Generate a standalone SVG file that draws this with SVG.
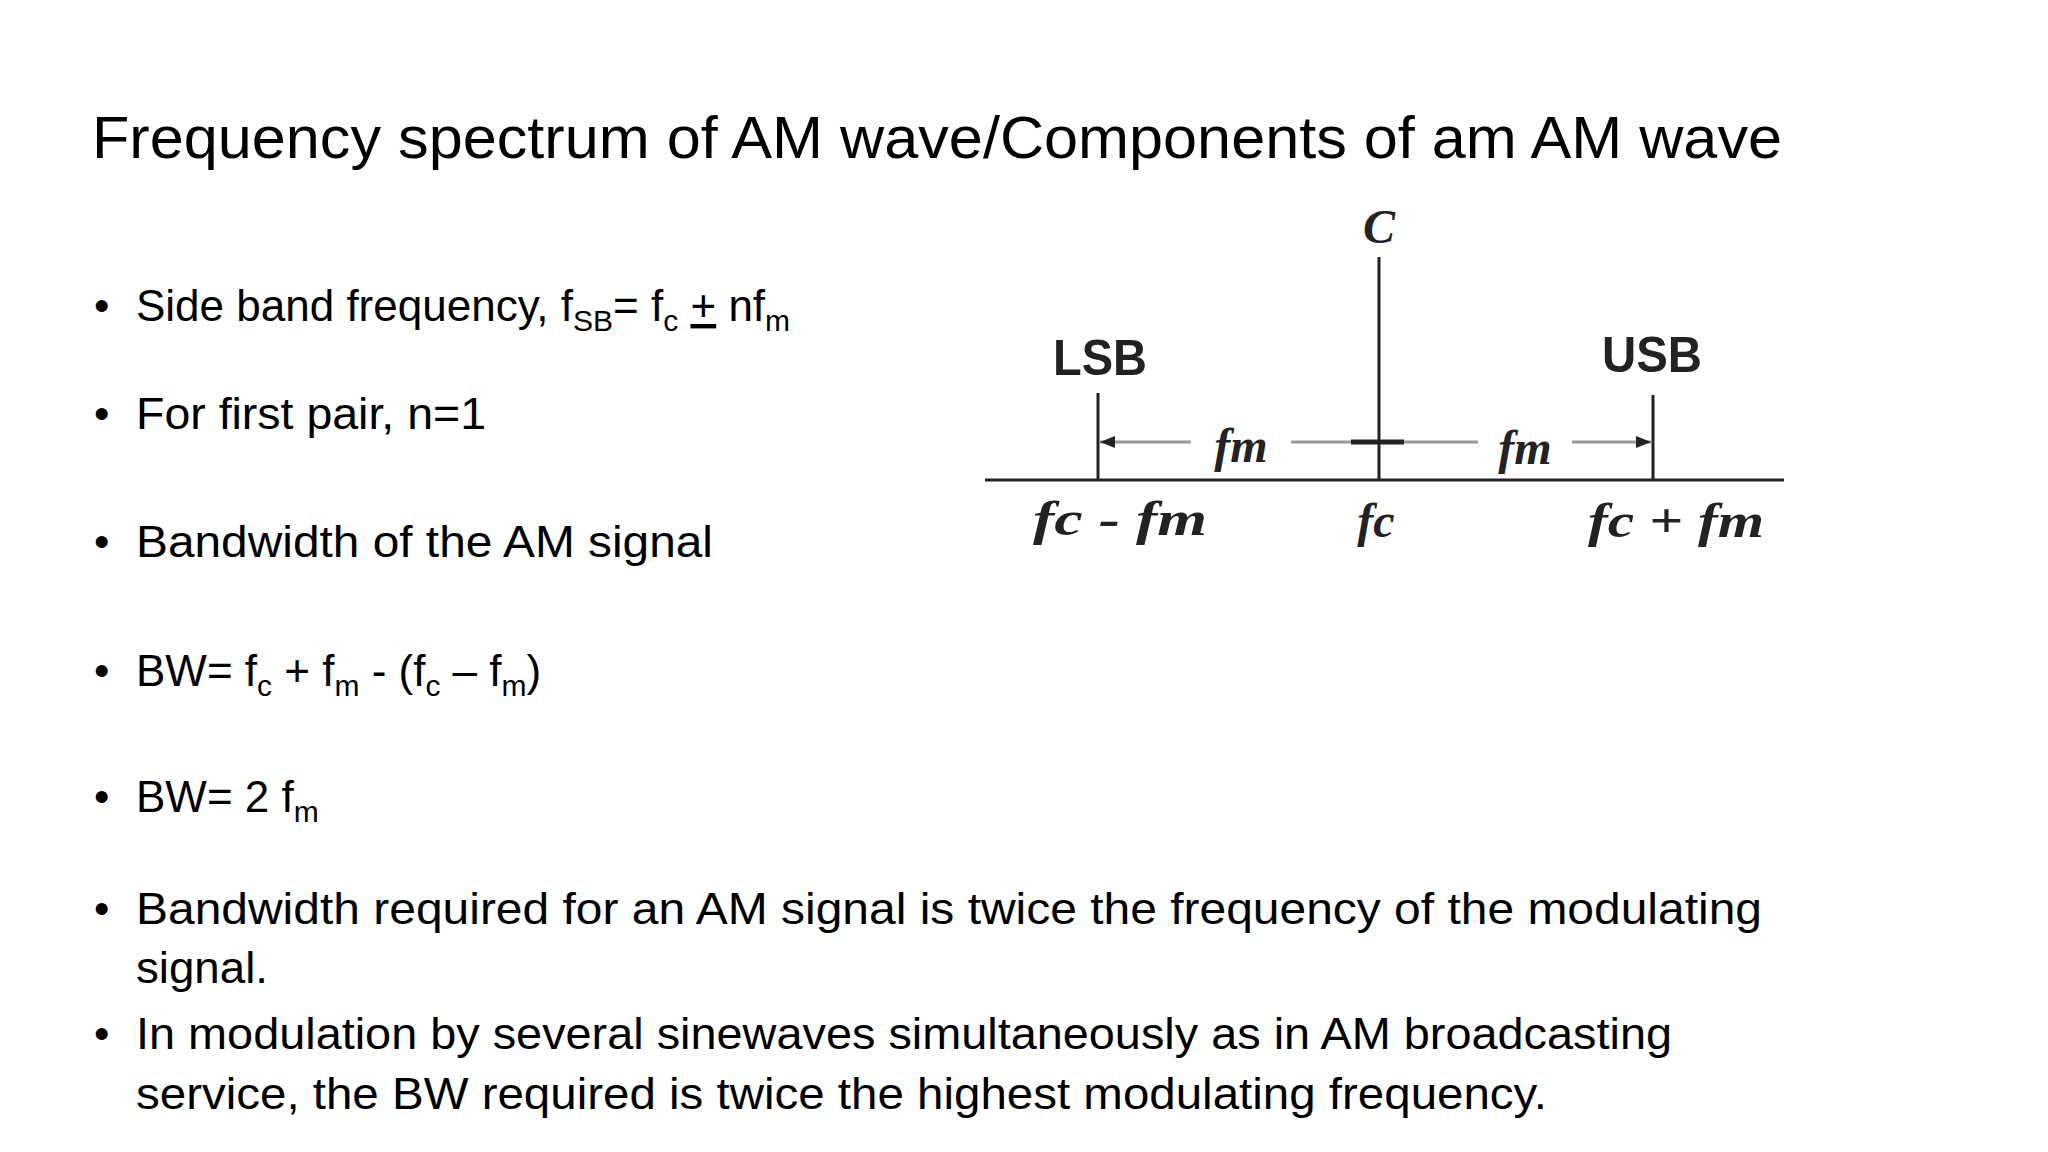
<svg xmlns="http://www.w3.org/2000/svg" width="2048" height="1152" viewBox="0 0 2048 1152">
<style>
.t{font-family:"Liberation Sans",Arial,sans-serif;fill:#000}
.b{font-size:44px}
.s{font-size:30px}
.lab{font-family:"Liberation Sans",Arial,sans-serif;font-weight:bold;font-size:50px;fill:#222}
.m{font-family:"Liberation Serif","Times New Roman",serif;font-style:italic;font-weight:bold;font-size:48px;fill:#222}
.ln{stroke:#222;stroke-width:3;fill:none}
</style>
<defs>
<marker id="ah" viewBox="0 0 10 10" refX="10" refY="5" markerWidth="5" markerHeight="5" orient="auto-start-reverse"><path d="M0,1 L10,5 L0,9 z" fill="#222"/></marker>
</defs>
<rect width="2048" height="1152" fill="#fff"/>
<text class="t" x="92" y="158" font-size="60" textLength="1690" lengthAdjust="spacingAndGlyphs">Frequency spectrum of AM wave/Components of am AM wave</text>
<g id="bullets" class="t b">
<text x="94" y="321">•</text><text x="136" y="321">Side band frequency, f<tspan class="s" dy="10">SB</tspan><tspan dy="-10">= f</tspan><tspan class="s" dy="10">c</tspan><tspan dy="-10"> </tspan><tspan text-decoration="underline">+</tspan><tspan> nf</tspan><tspan class="s" dy="10">m</tspan></text>
<text x="94" y="429">•</text><text x="136" y="429" textLength="350" lengthAdjust="spacingAndGlyphs">For first pair, n=1</text>
<text x="94" y="557">•</text><text x="136" y="557" textLength="577" lengthAdjust="spacingAndGlyphs">Bandwidth of the AM signal</text>
<text x="94" y="686">•</text><text x="136" y="686">BW= f<tspan class="s" dy="10">c</tspan><tspan dy="-10"> + f</tspan><tspan class="s" dy="10">m</tspan><tspan dy="-10"> - (f</tspan><tspan class="s" dy="10">c</tspan><tspan dy="-10"> – f</tspan><tspan class="s" dy="10">m</tspan><tspan dy="-10">)</tspan></text>
<text x="94" y="812">•</text><text x="136" y="812">BW= 2 f<tspan class="s" dy="10">m</tspan></text>
<text x="94" y="924">•</text><text x="136" y="924" textLength="1626" lengthAdjust="spacingAndGlyphs">Bandwidth required for an AM signal is twice the frequency of the modulating</text>
<text x="136" y="983" textLength="132" lengthAdjust="spacingAndGlyphs">signal.</text>
<text x="94" y="1049">•</text><text x="136" y="1049" textLength="1536" lengthAdjust="spacingAndGlyphs">In modulation by several sinewaves simultaneously as in AM broadcasting</text>
<text x="136" y="1109" textLength="1411" lengthAdjust="spacingAndGlyphs">service, the BW required is twice the highest modulating frequency.</text>
</g>
<g id="spectrum">
<line class="ln" x1="985" y1="480" x2="1784" y2="480"/>
<line class="ln" x1="1379" y1="257" x2="1379" y2="480" stroke-width="2"/>
<line class="ln" x1="1098" y1="393" x2="1098" y2="480" stroke-width="4"/>
<line class="ln" x1="1653" y1="395" x2="1653" y2="480" stroke-width="4"/>
</g>
<g id="connectors">
<line x1="1191" y1="442" x2="1100" y2="442" stroke="#999" stroke-width="3" marker-end="url(#ah)"/>
<line x1="1291" y1="442" x2="1478" y2="442" stroke="#999" stroke-width="3"/>
<line x1="1351" y1="442" x2="1404" y2="442" stroke="#222" stroke-width="5"/>
<line x1="1572" y1="442" x2="1651" y2="442" stroke="#999" stroke-width="3" marker-end="url(#ah)"/>
</g>
<g id="labels">
<text class="m" x="1379" y="243" text-anchor="middle" font-size="56">C</text>
<text class="lab" x="1100" y="375" text-anchor="middle" textLength="94" lengthAdjust="spacingAndGlyphs">LSB</text>
<text class="lab" x="1652" y="372" text-anchor="middle" textLength="100" lengthAdjust="spacingAndGlyphs">USB</text>
<text class="m" x="1241" y="462" text-anchor="middle">fm</text>
<text class="m" x="1525" y="464" text-anchor="middle">fm</text>
<text class="m" x="1120" y="535" text-anchor="middle" textLength="174" lengthAdjust="spacingAndGlyphs">fc - fm</text>
<text class="m" x="1376" y="537" text-anchor="middle">fc</text>
<text class="m" x="1676" y="537" text-anchor="middle" textLength="176" lengthAdjust="spacingAndGlyphs">fc + fm</text>
</g>
</svg>
